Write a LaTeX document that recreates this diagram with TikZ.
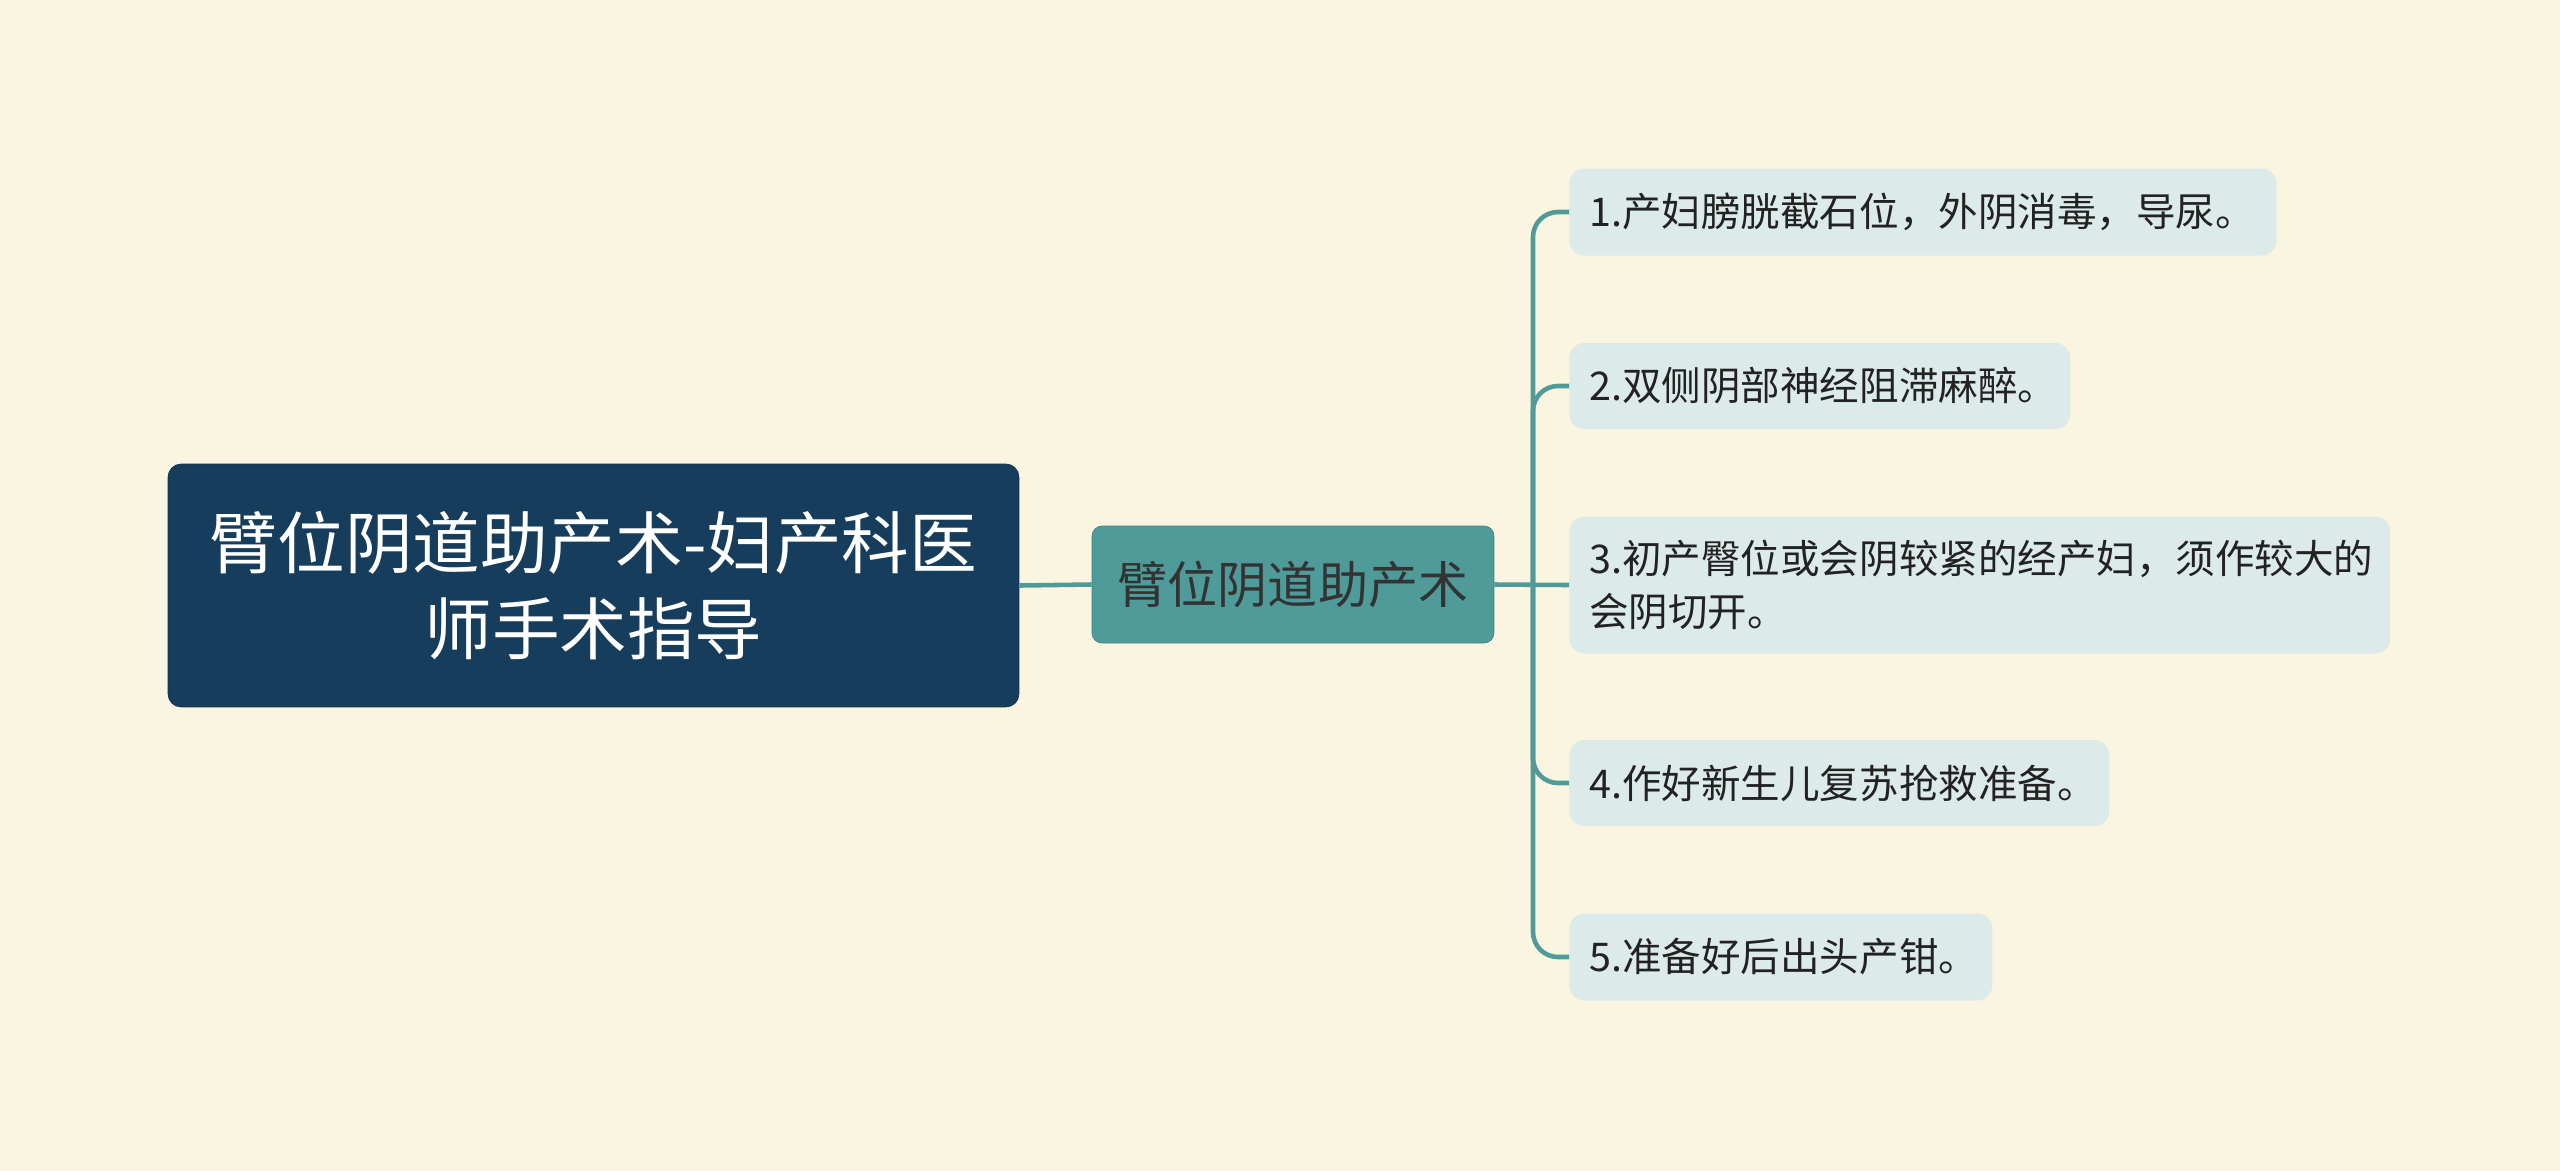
\documentclass[tikz,border=0pt]{standalone}
\usepackage{fontspec}
\newfontfamily\cjk{Noto Sans CJK SC}
\usetikzlibrary{positioning}
\definecolor{bgcream}{HTML}{FAF5E0}
\definecolor{rootblue}{HTML}{173D5C}
\definecolor{midteal}{HTML}{4E9B9A}
\definecolor{leaffill}{HTML}{DCEAE9}
\definecolor{leaftext}{HTML}{222222}
\definecolor{midtext}{HTML}{333333}

\begin{document}
\begin{tikzpicture}[x=0.02cm,y=-0.02cm,
	rootbox/.style={fill=rootblue, draw=rootblue!80!black, rounded corners=0.26cm, minimum width=17.02cm, minimum height=4.86cm, inner xsep=0.1cm, align=center, text=white, font=\cjk\fontsize{38.5}{49}\selectfont},
	midbox/.style={fill=midteal, draw=midteal!85!black, rounded corners=0.2cm, minimum width=8.04cm, minimum height=2.34cm, text=midtext, font=\cjk\fontsize{28.5}{34}\selectfont},
	leafbox/.style={fill=leaffill, rounded corners=0.3cm, anchor=west, inner xsep=0.4cm, text width=#1, align=left, text=leaftext, font=\cjk\fontsize{22.5}{30}\selectfont},
	link/.style={draw=midteal, line width=2.6pt}]
	%%%%% START %%%%%
	
	\fill[bgcream] (0, 0) rectangle (2560, 1171);
	\useasboundingbox (0, 0) rectangle (2560, 1171);
	
	\node[rootbox] (root) at (593.5, 585.5) {臂位阴道助产术-妇产科医\\师手术指导};
	\node[midbox] (mid) at (1293, 584.5) {臂位阴道助产术};
	
	\node[leafbox=13.35cm, minimum height=1.74cm] (leafA) at (1569, 212) {1.产妇膀胱截石位，外阴消毒，导尿。};
	\node[leafbox=9.22cm, minimum height=1.72cm] (leafB) at (1569, 386) {2.双侧阴部神经阻滞麻醉。};
	\node[leafbox=15.62cm, minimum height=2.74cm] (leafC) at (1569, 585) {3.初产臀位或会阴较紧的经产妇，须作较大的\\会阴切开。};
	\node[leafbox=10.0cm, minimum height=1.72cm] (leafD) at (1569, 783) {4.作好新生儿复苏抢救准备。};
	\node[leafbox=7.66cm, minimum height=1.74cm] (leafE) at (1569, 957) {5.准备好后出头产钳。};
	
	\coordinate (trunk) at (1533, 584.5);
	
	\draw[link] (root.east) -- (mid.west);
	\draw[link] (mid.east) -- (leafC.west);
	\draw[link, rounded corners=0.5cm] (trunk) |- (leafA.west);
	\draw[link, rounded corners=0.5cm] (trunk) |- (leafB.west);
	\draw[link, rounded corners=0.5cm] (trunk) |- (leafD.west);
	\draw[link, rounded corners=0.5cm] (trunk) |- (leafE.west);
	
	%%%%% END %%%%%
\end{tikzpicture}
\end{document}
